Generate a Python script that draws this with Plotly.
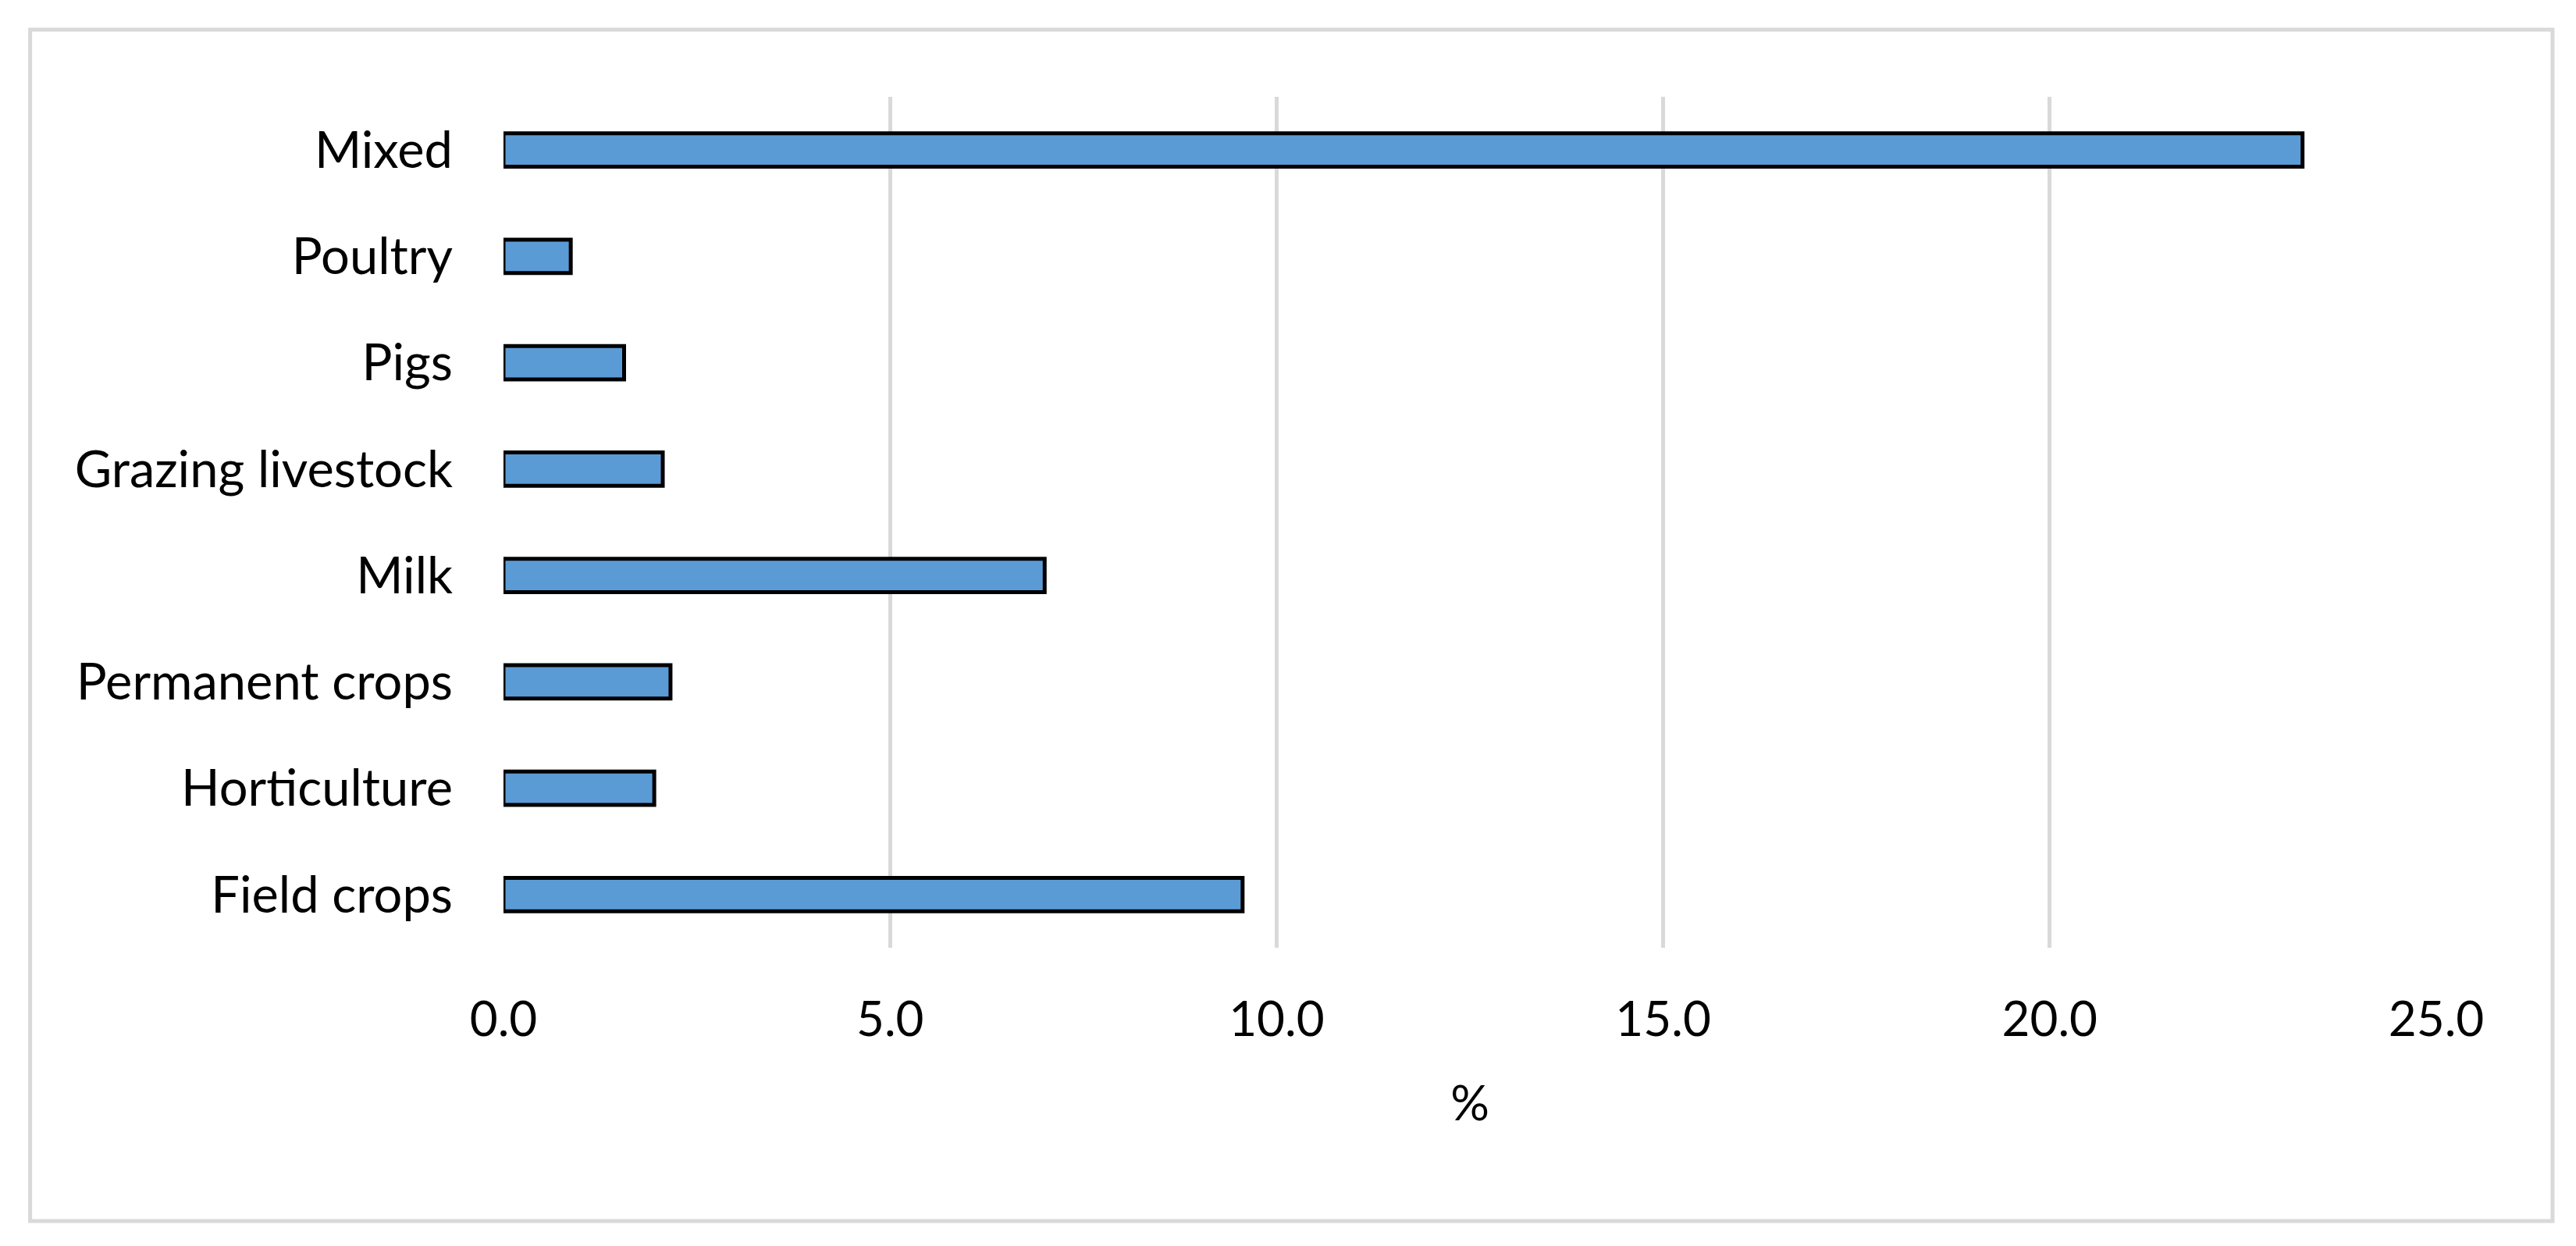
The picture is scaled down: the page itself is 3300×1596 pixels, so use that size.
import plotly.graph_objects as go

categories = ["Field crops", "Horticulture", "Permanent crops", "Milk",
              "Grazing livestock", "Pigs", "Poultry", "Mixed"]
values = [9.56, 1.95, 2.16, 7.0, 2.06, 1.56, 0.87, 23.27]
x_ticks = [0, 5, 10, 15, 20, 25]
x_ticklabels = ["0.0", "5.0", "10.0", "15.0", "20.0", "25.0"]
x_title = "%"

# page has an 8px default body margin; compensate so the window matches
OFF = 8
PW, PH = 3300, 1596
W, H = PW - OFF, PH - OFF
# plot area in window pixel coordinates
L, R, T, B = 644.5, 3121, 124, 1214
pw, ph = R - L, B - T

def px(x):
    return (x - L) / pw

def py(y):
    return (B - y) / ph

fig = go.Figure()
fig.add_trace(go.Bar(
    y=categories, x=values, orientation="h",
    width=0.315,
    marker=dict(color="#5b9bd5", line=dict(color="#000000", width=5)),
    hoverinfo="x+y",
))

font_family = "Lato, Carlito, Calibri, sans-serif"

fig.update_layout(
    width=W, height=H,
    margin=dict(l=L - OFF, r=PW - R, t=T - OFF, b=PH - B, autoexpand=False),
    paper_bgcolor="white", plot_bgcolor="white",
    showlegend=False,
    font=dict(family=font_family, color="#000000", size=62),
    xaxis=dict(
        range=[0, 25], tickvals=x_ticks, ticktext=x_ticklabels,
        showgrid=True, gridcolor="#d9d9d9", gridwidth=5,
        zeroline=False, showline=False, ticks="",
        ticklabelstandoff=50,
        tickfont=dict(size=62, family=font_family),
        title=dict(text=x_title, font=dict(size=62, family=font_family), standoff=52),
    ),
    yaxis=dict(
        categoryorder="array", categoryarray=categories,
        range=[-0.5, 7.5],
        showgrid=False, zeroline=False, showline=False, ticks="",
        ticklabelstandoff=64,
        tickfont=dict(size=65, family=font_family),
    ),
    shapes=[dict(
        type="rect", xref="paper", yref="paper",
        x0=px(38), x1=px(3270), y0=py(1564), y1=py(38),
        line=dict(color="#d9d9d9", width=5), fillcolor="rgba(0,0,0,0)",
        layer="below",
    )],
)

fig.write_html("out.html")
